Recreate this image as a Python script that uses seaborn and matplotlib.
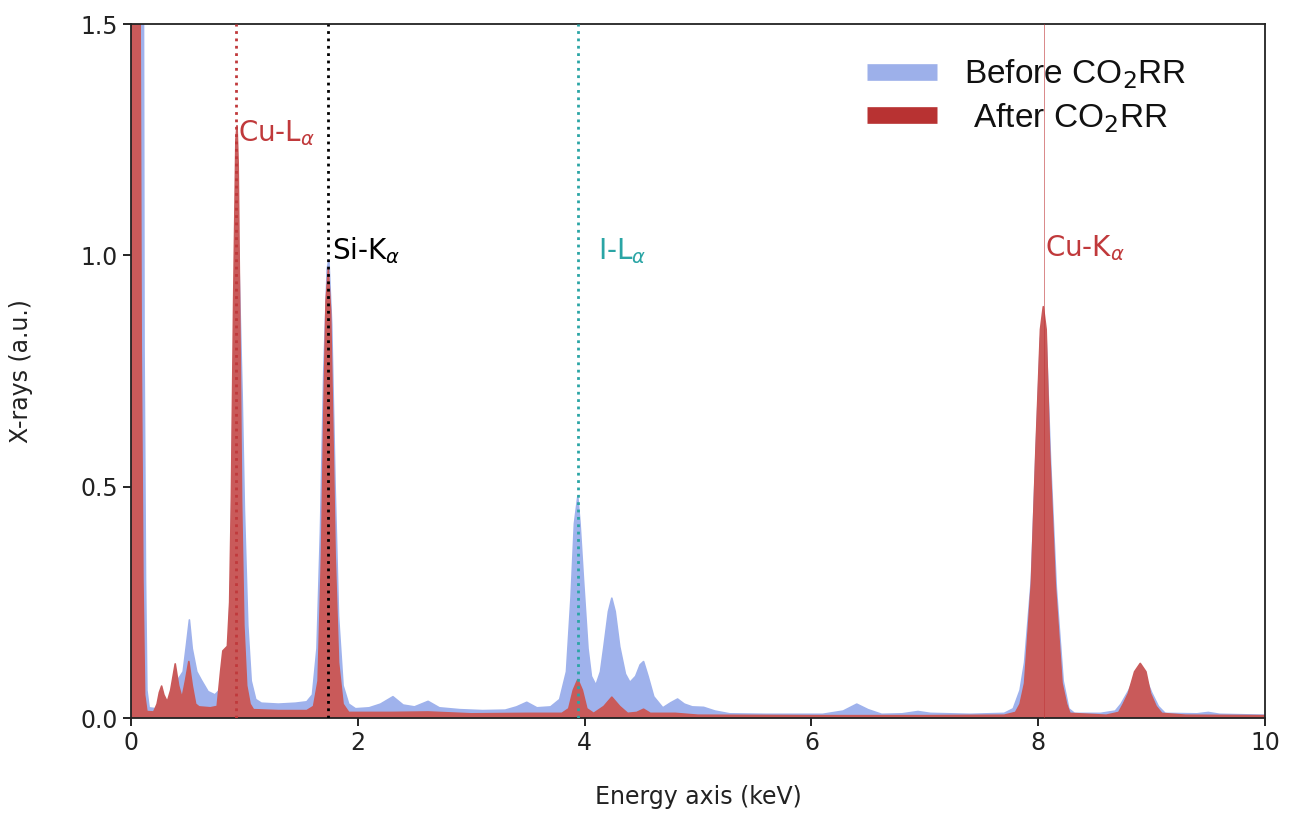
import numpy as np
import pandas as pd
import matplotlib
matplotlib.use("Agg")
import matplotlib.pyplot as plt
import seaborn as sns
from matplotlib.lines import Line2D

# ---------------- data ----------------
before_energy = [0.00, 0.10, 0.115, 0.128, 0.14, 0.16, 0.22, 0.30, 0.36, 0.42, 0.46, 0.49, 0.515, 0.54,
                 0.58, 0.62, 0.68, 0.74, 0.78, 0.82, 0.86, 0.88, 0.90, 0.93, 0.95, 0.98, 1.00, 1.03,
                 1.06, 1.10, 1.15, 1.30, 1.45, 1.55, 1.60, 1.64, 1.67, 1.70, 1.73, 1.745, 1.77, 1.80,
                 1.83, 1.87, 1.92, 1.98, 2.10, 2.20, 2.31, 2.40, 2.50, 2.62, 2.72, 2.90, 3.10, 3.30,
                 3.40, 3.49, 3.58, 3.70, 3.78, 3.84, 3.88, 3.91, 3.94, 3.96, 3.99, 4.03, 4.06, 4.10,
                 4.14, 4.17, 4.21, 4.24, 4.27, 4.31, 4.36, 4.40, 4.45, 4.49, 4.52, 4.56, 4.61, 4.69,
                 4.76, 4.82, 4.88, 4.95, 5.05, 5.15, 5.28, 5.60, 6.10, 6.28, 6.40, 6.50, 6.62, 6.80,
                 6.94, 7.05, 7.40, 7.70, 7.78, 7.84, 7.88, 7.94, 7.98, 8.02, 8.045, 8.07, 8.11, 8.16,
                 8.22, 8.27, 8.32, 8.55, 8.68, 8.73, 8.80, 8.90, 9.00, 9.06, 9.12, 9.40, 9.50, 9.60,
                 10.0]
before_counts = [3.0, 3.0, 0.8, 0.3, 0.06, 0.022, 0.02, 0.028, 0.05, 0.085, 0.10, 0.16, 0.212, 0.15,
                 0.10, 0.082, 0.057, 0.05, 0.06, 0.10, 0.16, 0.30, 0.70, 1.10, 1.00, 0.70, 0.45, 0.20,
                 0.08, 0.04, 0.032, 0.030, 0.032, 0.035, 0.05, 0.15, 0.40, 0.75, 0.97, 0.99, 0.85, 0.50,
                 0.22, 0.07, 0.030, 0.020, 0.022, 0.030, 0.046, 0.028, 0.024, 0.036, 0.022, 0.018, 0.016, 0.017,
                 0.024, 0.034, 0.022, 0.024, 0.04, 0.10, 0.26, 0.42, 0.478, 0.42, 0.30, 0.15, 0.09, 0.071,
                 0.10, 0.154, 0.23, 0.259, 0.23, 0.154, 0.095, 0.077, 0.09, 0.115, 0.122, 0.09, 0.046, 0.022,
                 0.033, 0.041, 0.030, 0.024, 0.023, 0.015, 0.009, 0.008, 0.008, 0.015, 0.030, 0.018, 0.008, 0.009,
                 0.014, 0.010, 0.008, 0.010, 0.02, 0.06, 0.12, 0.30, 0.57, 0.82, 0.87, 0.82, 0.55, 0.28,
                 0.08, 0.02, 0.010, 0.010, 0.015, 0.03, 0.06, 0.115, 0.055, 0.025, 0.010, 0.009, 0.012, 0.008,
                 0.006]

after_energy = [0.00, 0.06, 0.09, 0.105, 0.12, 0.14, 0.20, 0.23, 0.25, 0.27, 0.29, 0.32, 0.35, 0.39,
                0.42, 0.45, 0.48, 0.51, 0.54, 0.57, 0.60, 0.70, 0.76, 0.79, 0.81, 0.85, 0.87, 0.885,
                0.905, 0.925, 0.935, 0.945, 0.96, 0.975, 0.995, 1.02, 1.05, 1.08, 1.30, 1.55, 1.61, 1.65,
                1.68, 1.70, 1.72, 1.74, 1.76, 1.78, 1.80, 1.83, 1.87, 1.92, 2.30, 2.62, 3.00, 3.50,
                3.80, 3.86, 3.90, 3.94, 3.98, 4.02, 4.08, 4.17, 4.24, 4.31, 4.38, 4.46, 4.52, 4.58,
                4.80, 5.00, 6.00, 7.00, 7.70, 7.80, 7.84, 7.88, 7.94, 7.98, 8.02, 8.045, 8.07, 8.10,
                8.15, 8.21, 8.25, 8.28, 8.60, 8.71, 8.75, 8.795, 8.85, 8.90, 8.95, 8.99, 9.04, 9.09,
                9.30, 10.0]
after_counts = [3.0, 3.0, 0.8, 0.3, 0.05, 0.014, 0.013, 0.03, 0.055, 0.069, 0.05, 0.035, 0.06, 0.117,
                0.07, 0.043, 0.08, 0.122, 0.07, 0.03, 0.024, 0.022, 0.025, 0.10, 0.145, 0.155, 0.25, 0.47,
                0.90, 1.25, 1.28, 1.20, 0.85, 0.47, 0.20, 0.07, 0.03, 0.018, 0.016, 0.016, 0.025, 0.08,
                0.35, 0.65, 0.90, 0.97, 0.88, 0.62, 0.35, 0.12, 0.03, 0.012, 0.012, 0.013, 0.009, 0.010,
                0.010, 0.02, 0.06, 0.083, 0.06, 0.02, 0.010, 0.025, 0.045, 0.025, 0.010, 0.012, 0.019, 0.010,
                0.010, 0.006, 0.005, 0.005, 0.006, 0.012, 0.03, 0.075, 0.29, 0.58, 0.84, 0.889, 0.84, 0.58,
                0.29, 0.075, 0.03, 0.01, 0.006, 0.012, 0.03, 0.053, 0.10, 0.118, 0.10, 0.053, 0.025, 0.01,
                0.006, 0.005]

line_names = ["Cu-L$_{\\alpha}$", "Si-K$_{\\alpha}$", "I-L$_{\\alpha}$", "Cu-K$_{\\alpha}$"]
line_energies = [0.93, 1.74, 3.94, 8.05]
label_positions_x = [0.945, 1.77, 4.12, 8.06]
label_positions_y = [1.265, 1.01, 1.01, 1.015]

series_labels = ["Before CO$_2$RR", " After CO$_2$RR"]
x_ticks = [0, 2, 4, 6, 8, 10]
y_ticks = [0.0, 0.5, 1.0, 1.5]

# ---------------- style ----------------
sns.set_theme(style="ticks")
plt.rcParams["font.family"] = ["DejaVu Sans"]
plt.rcParams["mathtext.fontset"] = "dejavusans"

blue_fill = "#9FB2EC"
red_fill = "#C95A5A"
red_text = "#C0393B"
teal = "#2AA5A5"

fig = plt.figure(figsize=(12.89, 8.18), dpi=100)
ax = fig.add_axes([131 / 1289, 100 / 818, 1134 / 1289, 694 / 818])

df_before = pd.DataFrame({"energy": before_energy, "counts": before_counts})
df_after = pd.DataFrame({"energy": after_energy, "counts": after_counts})

ax.fill_between(df_before["energy"], df_before["counts"], color=blue_fill, lw=0, zorder=1)
sns.lineplot(data=df_before, x="energy", y="counts", ax=ax, color=blue_fill, lw=1.2, zorder=1.1)
ax.fill_between(df_after["energy"], df_after["counts"], color=red_fill, lw=0, zorder=2)
sns.lineplot(data=df_after, x="energy", y="counts", ax=ax, color=red_fill, lw=1.2, zorder=2.1)

line_colors = [red_text, "black", teal, red_text]
line_styles = [":", ":", ":", "-"]
line_widths = [2.0, 2.0, 2.0, 0.7]
line_alphas = [1.0, 1.0, 1.0, 0.6]
for e, c, ls, lw, a in zip(line_energies, line_colors, line_styles, line_widths, line_alphas):
    ax.axvline(e, color=c, ls=ls, lw=lw, alpha=a, zorder=3)

for name, tx, ty, c in zip(line_names, label_positions_x, label_positions_y, line_colors):
    ax.text(tx, ty, name, color=c, fontsize=20, ha="left", va="center", zorder=4)

ax.set_xlim(0, 10)
ax.set_ylim(0, 1.5)
ax.set_xticks(x_ticks)
ax.set_xticklabels([str(t) for t in x_ticks])
ax.set_yticks(y_ticks)
ax.set_yticklabels([f"{t:.1f}" for t in y_ticks])
ax.tick_params(axis="both", labelsize=17, length=6, width=1.2, direction="out", color="black",
               labelcolor="#222222")
for sp in ax.spines.values():
    sp.set_visible(True)
    sp.set_color("#222222")
    sp.set_linewidth(1.3)

ax.set_xlabel("Energy axis (keV)", fontsize=17, color="#222222")
ax.set_ylabel("X-rays (a.u.)", fontsize=17, color="#222222")
ax.xaxis.set_label_coords(0.5, -0.097)
ax.yaxis.set_label_coords(-0.086, 0.5)

handles = [Line2D([0], [0], color="#9DB0EA", lw=12, solid_capstyle="butt"),
           Line2D([0], [0], color="#B83232", lw=12, solid_capstyle="butt")]
leg = ax.legend(handles, series_labels, loc="upper left", bbox_to_anchor=(0.649, 0.952),
                frameon=False, prop={"family": "Liberation Sans", "size": 24},
                handlelength=2.1, handletextpad=0.8, labelspacing=0.3, borderpad=0,
                borderaxespad=0)
for t in leg.get_texts():
    t.set_color("#111111")

fig.savefig("out.png", dpi=100)
